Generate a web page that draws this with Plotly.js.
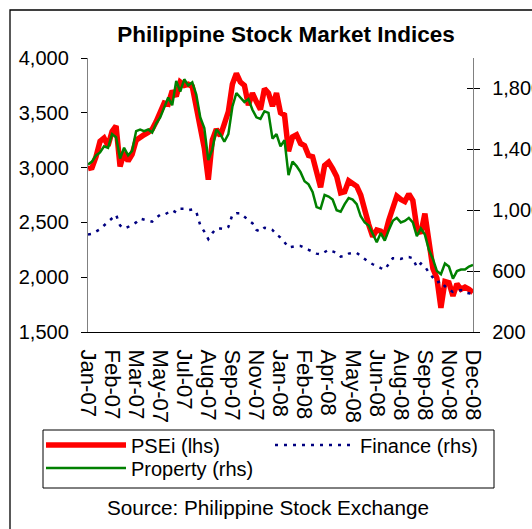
<!DOCTYPE html>
<html>
<head>
<meta charset="utf-8">
<script src="https://cdn.plot.ly/plotly-3.0.1.min.js"></script>
<style>html,body{margin:0;padding:0;background:#fff;}#chart{width:532px;height:529px;}</style>
</head>
<body>
<div id="chart"></div>
<script>
// weekly trading index (0 = first week of Jan-07, 96 = last week of Dec-08)
const tickLabels = ["Jan-07","Feb-07","Mar-07","May-07","Jul-07","Aug-07","Sep-07","Nov-07","Jan-08","Feb-08","Apr-08","May-08","Jun-08","Aug-08","Sep-08","Nov-08","Dec-08"];

const psei = [2990,3000,3100,3240,3270,3200,3330,3380,3010,3140,3060,3120,3250,3280,3300,3320,3350,3420,3520,3590,
  3580,3700,3650,3780,3750,3760,3740,3560,3330,3180,2890,3250,3350,3290,3400,3510,3760,3860,3780,3750,
  3570,3680,3600,3530,3720,3680,3560,3680,3500,3480,3150,3280,3300,3220,3200,3110,3100,2950,2820,3020,
  3050,2990,2920,2770,2780,2880,2860,2830,2750,2600,2480,2370,2430,2420,2380,2520,2620,2740,2710,2690,
  2760,2700,2450,2400,2580,2300,2080,1990,1720,1960,1950,1830,1940,1890,1910,1890,1860];

const property = [1300,1320,1360,1380,1420,1410,1500,1480,1340,1410,1360,1390,1520,1530,1520,1530,1510,1570,1610,1680,
  1740,1690,1850,1780,1860,1820,1840,1760,1610,1540,1330,1400,1530,1500,1450,1500,1680,1770,1740,1710,
  1730,1660,1610,1600,1650,1640,1470,1500,1420,1460,1230,1320,1290,1250,1190,1170,1120,1020,1010,1100,
  1090,1070,1000,990,1040,1080,1070,1040,960,920,900,850,790,850,800,870,930,950,920,930,
  950,920,830,880,840,740,680,600,580,650,630,550,600,610,610,630,640];

const finance = [840,845,860,875,900,925,950,970,900,880,890,905,920,945,940,935,925,950,970,970,
  985,1000,985,1010,1010,1000,1005,990,900,860,810,850,880,880,875,890,970,980,980,955,
  935,915,870,860,885,880,870,840,820,790,755,760,765,765,755,740,728,715,710,725,
  740,730,720,695,700,715,720,720,700,675,660,645,630,620,610,650,685,685,680,690,
  692,685,625,650,630,590,555,525,535,500,478,463,470,475,458,455,450];

const weeks = psei.map((_, i) => i);
const tickVals = tickLabels.map((_, k) => k * 6);

const FONT = "Liberation Sans, Arial, sans-serif";
const W = 532, H = 529;
const M = {l: 88, r: 59, t: 58, b: 197};
const PW = W - M.l - M.r, PH = H - M.t - M.b;
const px = x => (x - M.l) / PW;
const py = y => (H - M.b - y) / PH;

const traces = [
  {x: weeks, y: psei, name: "PSEi (lhs)", type: "scatter", mode: "lines",
   line: {color: "#FF0000", width: 5.5}, yaxis: "y", legend: "legend"},
  {x: weeks, y: property, name: "Property (rhs)", type: "scatter", mode: "lines",
   line: {color: "#008000", width: 2.5}, yaxis: "y2", legend: "legend3"},
  {x: weeks, y: finance, name: "Finance (rhs)", type: "scatter", mode: "lines",
   line: {color: "#000080", width: 2.5, dash: "3px,6px"}, yaxis: "y2", legend: "legend2"}
];

const legendBase = {
  orientation: "v", xanchor: "left", yanchor: "middle",
  bgcolor: "rgba(0,0,0,0)", borderwidth: 0,
  font: {family: FONT, size: 20, color: "#000"},
  itemwidth: 80, itemclick: false, itemdoubleclick: false
};

const layout = {
  width: W, height: H,
  margin: M,
  paper_bgcolor: "#fff", plot_bgcolor: "#fff",
  font: {family: FONT, size: 20, color: "#000"},
  title: {text: "<b>Philippine Stock Market Indices</b>", font: {family: FONT, size: 22.5, color: "#000"},
          x: 286 / W, xref: "container", xanchor: "center", y: 1 - 34 / H, yref: "container", yanchor: "middle"},
  showlegend: true,
  legend: Object.assign({}, legendBase, {x: px(41), y: py(445)}),
  legend2: Object.assign({}, legendBase, {x: px(270), y: py(445)}),
  legend3: Object.assign({}, legendBase, {x: px(41), y: py(468)}),
  xaxis: {
    range: [0, 96], tickmode: "array", tickvals: tickVals, ticktext: tickLabels,
    tickangle: 90, ticks: "", showgrid: false, zeroline: false,
    showline: true, linecolor: "#000", linewidth: 1.2,
    tickfont: {family: FONT, size: 22, color: "#000"}, ticklabelstandoff: 12
  },
  yaxis: {
    range: [1500, 4000], dtick: 500, tickformat: ",d", showgrid: false, zeroline: false,
    showline: true, linecolor: "#808080", linewidth: 1.2,
    ticks: "outside", ticklen: 6, tickcolor: "#000", tickwidth: 1,
    tickfont: {family: FONT, size: 20, color: "#000"}, ticklabelstandoff: 8
  },
  yaxis2: {
    overlaying: "y", side: "right", anchor: "x",
    range: [200, 2000], tickmode: "array",
    tickvals: [200, 600, 1000, 1400, 1800], ticktext: ["200", "600", "1,000", "1,400", "1,800"],
    showgrid: false, zeroline: false,
    showline: true, linecolor: "#808080", linewidth: 1.2,
    ticks: "outside", ticklen: 6, tickcolor: "#000", tickwidth: 1,
    tickfont: {family: FONT, size: 20, color: "#000"}, ticklabelstandoff: 8
  },
  yaxis3: {
    overlaying: "y", side: "right", anchor: "x",
    range: [200, 2000], tickmode: "array", tickvals: [200, 600, 1000, 1400, 1800],
    showticklabels: false, showgrid: false, zeroline: false, showline: false,
    ticks: "inside", ticklen: 6, tickcolor: "#000", tickwidth: 1
  },
  shapes: [
    {type: "rect", xref: "paper", yref: "paper", x0: px(10), x1: px(560), y0: py(560), y1: py(10),
     line: {color: "#000", width: 1.3}, fillcolor: "rgba(0,0,0,0)", layer: "below"},
    {type: "rect", xref: "paper", yref: "paper", x0: px(43), x1: px(494), y0: py(488), y1: py(430),
     line: {color: "#000", width: 1}, fillcolor: "rgba(0,0,0,0)"}
  ],
  annotations: [
    {text: "Source: Philippine Stock Exchange", xref: "paper", yref: "paper",
     x: px(268), y: py(507), xanchor: "center", yanchor: "middle", showarrow: false,
     font: {family: FONT, size: 20.7, color: "#000"}}
  ]
};

traces.push({x: [0], y: [null], yaxis: "y3", showlegend: false, hoverinfo: "skip", type: "scatter", mode: "lines"});

Plotly.newPlot("chart", traces, layout, {displayModeBar: false, staticPlot: true});
</script>
</body>
</html>
